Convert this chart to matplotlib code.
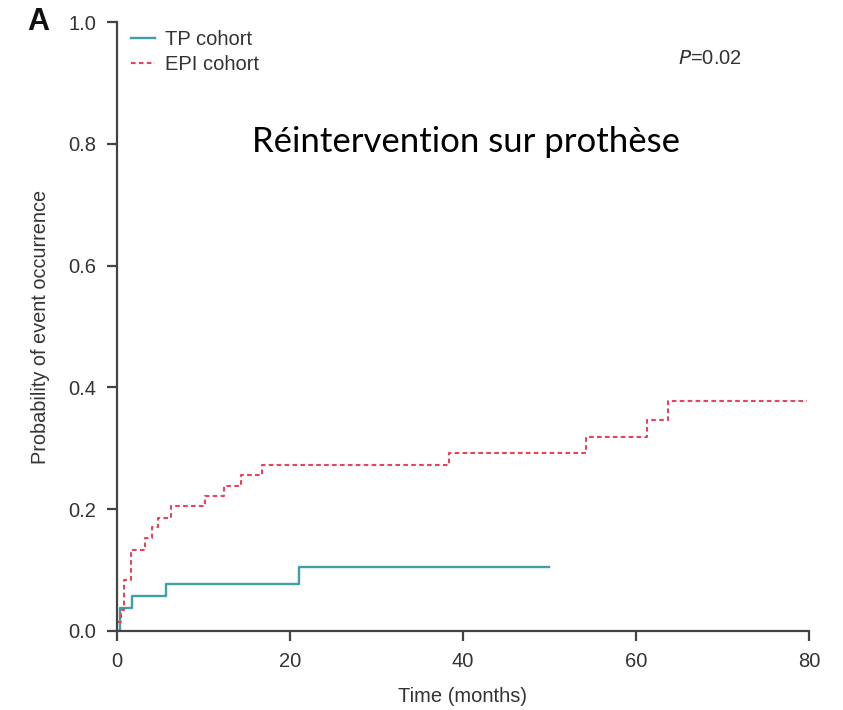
import matplotlib
matplotlib.use("Agg")
import matplotlib.pyplot as plt

plt.rcParams['font.family'] = ['Liberation Sans', 'DejaVu Sans']

# Cumulative incidence step curves (time in months, probability)
tp_time = [0, 0.35, 1.7, 5.7, 21.0, 49.9]
tp_prob = [0.0, 0.037, 0.057, 0.077, 0.105, 0.105]

epi_time = [0, 0.43, 0.81, 1.58, 3.24, 4.0, 4.78, 6.24, 10.2, 12.4, 14.3,
            16.8, 38.4, 54.2, 61.3, 63.7, 79.8]
epi_prob = [0.014, 0.034, 0.084, 0.133, 0.152, 0.171, 0.185, 0.205, 0.222,
            0.238, 0.256, 0.273, 0.292, 0.319, 0.346, 0.378, 0.378]

x_ticks = [0, 20, 40, 60, 80]
y_ticks = [0.0, 0.2, 0.4, 0.6, 0.8, 1.0]

teal = "#3f9fa6"
red = "#e8435c"
axis_col = "#444444"
text_col = "#333333"

fig = plt.figure(figsize=(8.43, 7.10), dpi=100)
ax = fig.add_axes([117 / 843, 1 - 631 / 710, (809 - 117) / 843, (631 - 22) / 710])

ax.step(tp_time, tp_prob, where="post", color=teal, lw=1.7, label="TP cohort")
ax.step(epi_time, epi_prob, where="post", color=red, lw=1.5,
        linestyle=(0, (2.2, 1.6)), label="EPI cohort")

ax.set_xlim(0, 80)
ax.set_ylim(0, 1.0)
ax.set_xticks(x_ticks)
ax.set_xticklabels([str(t) for t in x_ticks])
ax.set_yticks(y_ticks)
ax.set_yticklabels([f"{t:.1f}" for t in y_ticks])

for side in ("top", "right"):
    ax.spines[side].set_visible(False)
for side in ("left", "bottom"):
    ax.spines[side].set_color(axis_col)
    ax.spines[side].set_linewidth(1.6)
    ax.spines[side].set_capstyle("projecting")

ax.tick_params(axis="both", direction="out", length=7, width=1.6,
               color=axis_col, labelcolor=text_col, labelsize=14.5, pad=8)

ax.set_xlabel("Time (months)", fontsize=14.5, color=text_col, labelpad=12)
ax.set_ylabel("Probability of event occurrence", fontsize=14.3, color=text_col,
              labelpad=13)

leg = ax.legend(loc="upper left", bbox_to_anchor=(-0.006, 1.017), frameon=False,
                fontsize=14.5, handlelength=1.2, handletextpad=0.5,
                labelspacing=0.3, borderaxespad=0.5)
for txt in leg.get_texts():
    txt.set_color(text_col)

ax.text(0.81, 0.940, "$P$=0.02", transform=ax.transAxes, fontsize=14.5,
        color=text_col, ha="left", va="center")

ax.text(0.505, 0.787, "Réintervention sur prothèse", transform=ax.transAxes,
        fontsize=25, family=["Lato", "DejaVu Sans"], color="black",
        ha="center", va="baseline")

fig.text(38.5 / 843, 1 - 22 / 710, "A", fontsize=22, fontweight="bold",
         color="#111111", ha="center", va="center")

fig.savefig("out.png", dpi=100)
